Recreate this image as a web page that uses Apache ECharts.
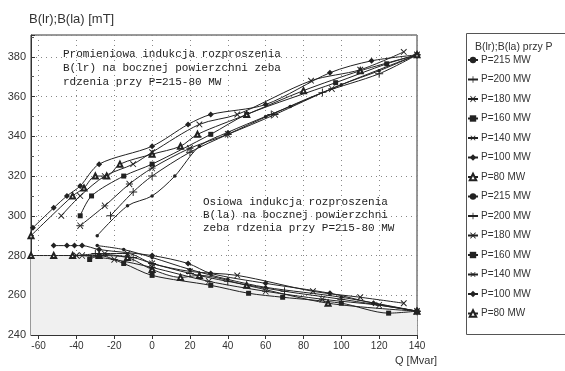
<!DOCTYPE html>
<html>
<head>
<meta charset="utf-8">
<script src="https://cdn.jsdelivr.net/npm/echarts@6.0.0/dist/echarts.min.js"></script>
<style>
  html, body { margin: 0; background: #fff; }
  #chart { width: 565px; height: 371px; }
</style>
</head>
<body>
<div id="chart"></div>
<script>
// tick labels
const xTicks = [-60, -40, -20, 0, 20, 40, 60, 80, 100, 120, 140]
const pLabels = ['P=215 MW', 'P=200 MW', 'P=180 MW', 'P=160 MW', 'P=140 MW', 'P=100 MW', 'P=80 MW']

// B(lr) - radial, [Q Mvar, B mT]
const lr215 = [[-29, 290], [-13, 305], [0, 310], [12, 320], [25, 335], [40, 342], [60, 350], [73, 355], [100, 366], [120, 373], [140, 381]]
const lr200 = [[-22, 300], [-10, 312], [0, 320], [20, 332], [40, 341], [63, 351], [90, 362], [120, 371.5], [140, 381]]
const lr180 = [[-38, 295], [-25, 305], [-12, 316], [0, 324], [20, 334], [40, 341], [65, 351], [95, 364], [140, 381]]
const lr160 = [[-38, 300], [-32, 310], [-15, 320], [0, 326], [31, 341], [50, 351], [97, 367], [124, 376.5], [140, 381]]
const lr140 = [[-48, 300], [-38, 310], [-25, 320], [-10, 326], [0, 332], [25, 346], [45, 351], [84, 368], [110, 373.5], [133, 382.5]]
const lr100 = [[-63, 294], [-52, 304], [-45, 310], [-38, 315], [-28, 326], [0, 335], [19, 346], [31, 351], [60, 356], [94, 372], [116, 378], [140, 381]]
const lr80 = [[-64, 290], [-42, 310], [-36, 314], [-30, 320], [-24, 320], [-17, 326], [0, 331], [15, 335], [24, 341], [50, 351], [80, 363], [110, 373], [140, 381]]

// B(la) - axial
const la215 = [[-29, 285], [-15, 283], [0, 279], [20, 273], [40, 268], [60, 264], [100, 259], [140, 252]]
const la200 = [[-30, 281], [-10, 279], [0, 276], [20, 271], [40, 267], [70, 262], [100, 258], [140, 252]]
const la180 = [[-37, 280], [-20, 278], [0, 274], [30, 267], [60, 262], [90, 258], [120, 255], [140, 252]]
const la160 = [[-33, 278], [-28, 280], [-15, 276], [0, 270], [31, 265], [51, 261], [69, 259], [100, 256], [125, 251], [140, 252]]
const la140 = [[-40, 280], [-25, 281], [-13, 281], [0, 276], [20, 272], [45, 270], [85, 262], [110, 259], [133, 256]]
const la100 = [[-52, 285], [-45, 285], [-41, 285], [-37, 285], [-28, 283], [0, 280], [19, 276], [31, 271], [60, 266], [94, 261], [117, 256], [140, 252]]
const la80 = [[-64, 280], [-52, 280], [-42, 280], [-28, 280], [-13, 279], [0, 273], [15, 269], [25, 270], [50, 265], [93, 256], [140, 252]]

const INK = '#222'
const PLUS = 'path://M-0.6,-5H0.6V-0.6H5V0.6H0.6V5H-0.6V0.6H-5V-0.6H-0.6Z'
const STAR = 'path://M-5,-0.6H5V0.6H-5Z M-4.4,-3.6L3.6,4.4L4.4,3.6L-3.6,-4.4Z M-4.4,3.6L3.6,-4.4L4.4,-3.6L-3.6,4.4Z'

// symbol per power level: [symbol, size, rotate]
const marks = [
  ['circle', 3.5, 0],
  [PLUS, 8, 0],
  [STAR, 7, 0],
  ['rect', 5, 0],
  [PLUS, 8, 45],
  ['diamond', 6, 0],
  ['emptyTriangle', 5, 0]
]

const makeSeries = (prefix, data, i, area) => ({
  name: prefix + pLabels[i],
  type: 'line',
  data: data,
  smooth: 0.3,
  symbol: marks[i][0],
  symbolSize: marks[i][1],
  symbolRotate: marks[i][2],
  lineStyle: { color: INK, width: 1 },
  itemStyle: { color: INK, borderWidth: 1 },
  areaStyle: area ? { color: '#f0f0f0', opacity: 1 } : undefined,
  z: area ? 1 : 2
})

const upper = [lr215, lr200, lr180, lr160, lr140, lr100, lr80]
const lower = [la215, la200, la180, la160, la140, la100, la80]
let series = []
upper.forEach((d, i) => series.push(makeSeries('lr ', d, i, false)))
lower.forEach((d, i) => series.push(makeSeries('la ', d, i, i === 6)))

const chart = echarts.init(document.getElementById('chart'))
const monoText = { font: '11px "Liberation Mono"', fill: INK }

chart.setOption({
  animation: false,
  textStyle: { fontFamily: 'Liberation Sans' },
  grid: { left: 31, top: 35, right: 148, bottom: 36, show: true, borderColor: '#333', borderWidth: 1, backgroundColor: 'transparent' },
  title: {
    text: 'B(lr);B(la) przy P',
    left: 470, top: 37,
    textStyle: { fontSize: 10.5, fontWeight: 'normal', color: '#333', fontFamily: 'Liberation Sans' }
  },
  legend: {
    orient: 'vertical',
    left: 467, top: 55, padding: 0,
    itemWidth: 10, itemHeight: 8, itemGap: 9.5,
    textStyle: { fontSize: 10, color: '#333', padding: [0, 0, 0, -2] },
    formatter: name => name.slice(3),
    data: series.map(s => s.name)
  },
  xAxis: {
    type: 'value',
    min: -64, max: 140,
    name: 'Q [Mvar]',
    nameLocation: 'end',
    nameGap: -22,
    nameTextStyle: { fontSize: 11, color: '#333', align: 'left', verticalAlign: 'top', padding: [20, 0, 0, 0] },
    axisLine: { onZero: false, lineStyle: { color: '#333' } },
    axisTick: { customValues: xTicks, length: 4, lineStyle: { color: '#333' } },
    axisLabel: { customValues: xTicks, fontSize: 10, color: '#333', margin: 6 },
    splitLine: { show: true, lineStyle: { color: '#888', type: [1, 4], width: 1 } }
  },
  yAxis: {
    type: 'value',
    min: 240, max: 391, interval: 20,
    name: 'B(lr);B(la) [mT]',
    nameLocation: 'end',
    nameGap: 9,
    nameTextStyle: { fontSize: 13, color: '#333', align: 'left', verticalAlign: 'bottom', padding: [0, 0, 0, -2] },
    axisLine: { show: true, onZero: false, lineStyle: { color: '#333' } },
    axisTick: { show: true, inside: true, length: 4, lineStyle: { color: '#333' } },
    minorTick: { show: true, splitNumber: 2, length: 3, lineStyle: { color: '#555' } },
    axisLabel: { fontSize: 11, color: '#333', margin: 5, showMaxLabel: false },
    splitLine: { show: true, lineStyle: { color: '#888', type: [1, 4], width: 1 } }
  },
  graphic: [
    { type: 'rect', shape: { x: 466.5, y: 33.5, width: 120, height: 301 }, style: { fill: 'none', stroke: '#555', lineWidth: 1 } },
    { type: 'text', left: 63, top: 47, style: Object.assign({ text: 'Promieniowa indukcja rozproszenia\nB(lr) na bocznej powierzchni zeba\nrdzenia przy P=215-80 MW', lineHeight: 14 }, monoText) },
    { type: 'text', left: 203, top: 196, style: Object.assign({ text: 'Osiowa indukcja rozproszenia\nB(la) na bocznej powierzchni\nzeba rdzenia przy P=215-80 MW', lineHeight: 13 }, monoText) }
  ],
  series: series
})
</script>
</body>
</html>
